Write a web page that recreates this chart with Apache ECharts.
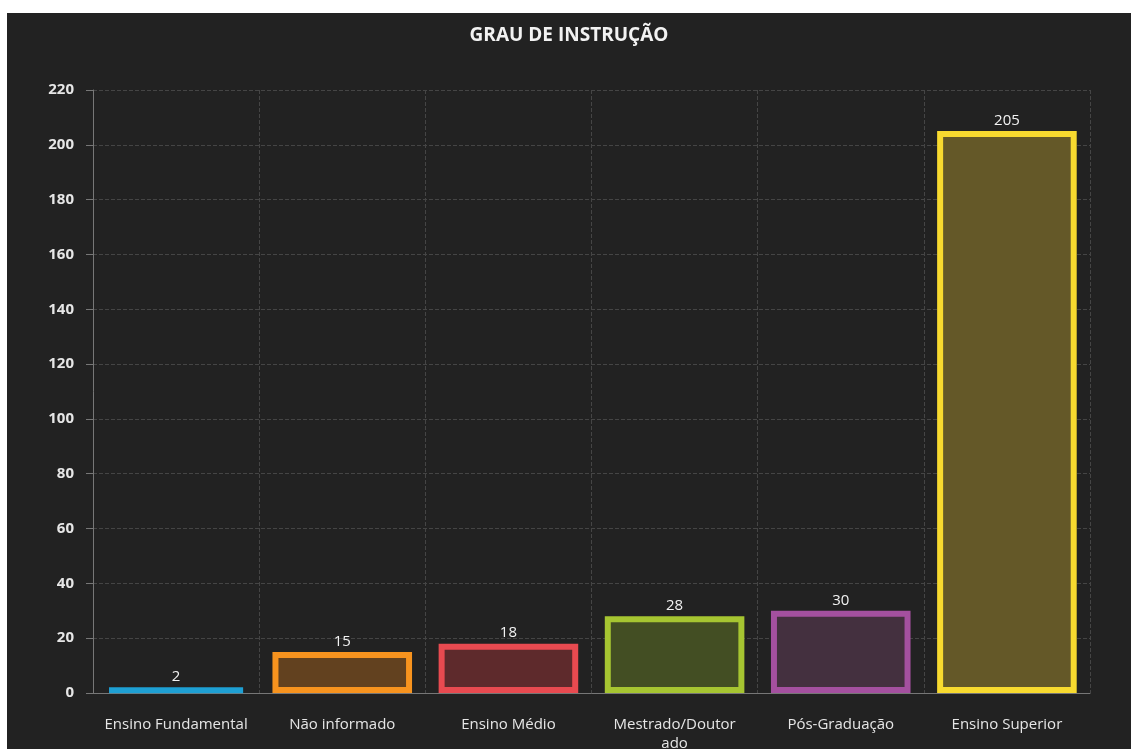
<!DOCTYPE html>
<html>
<head>
<meta charset="utf-8">
<script src="https://cdn.jsdelivr.net/npm/echarts@6/dist/echarts.min.js"></script>
<style>
  html, body { margin: 0; padding: 0; background: #fff; width: 1131px; height: 749px; overflow: hidden; }
  #chart { position: absolute; left: 7px; top: 13px; width: 1124px; height: 736px; background: #222222; }
</style>
</head>
<body>
<div id="chart"></div>
<script>
const categories = ['Ensino Fundamental', 'Não informado', 'Ensino Médio', 'Mestrado/Doutorado', 'Pós-Graduação', 'Ensino Superior']
const values = [2, 15, 18, 28, 30, 205]
const barColors = ['#1ea0d4', '#f7931e', '#e84a50', '#a6c531', '#a4509f', '#f8da2f']
const fillColors = ['#1ea0d4', '#62411f', '#5e2a2c', '#434e23', '#44303f', '#645828']

// long single words are cut after 15 characters, as in the original
function wrapLabel (v) {
  return v.indexOf(' ') < 0 && v.length > 15 ? v.slice(0, 15) + '\n' + v.slice(15) : v
}

const dom = echarts.init(document.getElementById('chart'))
const option = {
  backgroundColor: '#222222',
  title: {
    text: 'GRAU DE INSTRUÇÃO',
    left: 'center',
    top: 8,
    textStyle: { color: '#f2f2f2', fontSize: 19, fontWeight: 'bold', fontFamily: 'Open Sans' }
  },
  grid: { left: 86, right: 41, top: 77, bottom: 56, containLabel: false, outerBoundsMode: 'none' },
  xAxis: {
    type: 'category',
    data: categories,
    axisLine: { lineStyle: { color: '#777' } },
    axisTick: { alignWithLabel: true, length: 5, lineStyle: { color: '#777' } },
    axisLabel: {
      color: '#e6e6e6', fontSize: 15, fontFamily: 'Open Sans', margin: 22,
      interval: 0, lineHeight: 19, formatter: wrapLabel
    },
    splitLine: { show: true, lineStyle: { color: '#454545', type: 'dashed' } }
  },
  yAxis: {
    type: 'value',
    min: 0,
    max: 220,
    interval: 20,
    axisLine: { show: true, lineStyle: { color: '#777' } },
    axisTick: { show: true, length: 7, lineStyle: { color: '#777' } },
    axisLabel: { color: '#e6e6e6', fontSize: 15, fontFamily: 'Open Sans', fontWeight: 'bold', margin: 19 },
    splitLine: { lineStyle: { color: '#454545', type: 'dashed' } }
  },
  series: [
    {
      type: 'bar',
      barWidth: '84%',
      data: values.map((v, i) => ({
        value: v,
        itemStyle: { color: fillColors[i], borderColor: barColors[i], borderWidth: 6 }
      })),
      label: {
        show: true,
        position: 'top',
        distance: 3,
        color: '#f2f2f2',
        fontSize: 15,
        fontFamily: 'Open Sans'
      }
    }
  ]
}
dom.setOption(option)
window.addEventListener('resize', () => dom.resize())
</script>
</body>
</html>
